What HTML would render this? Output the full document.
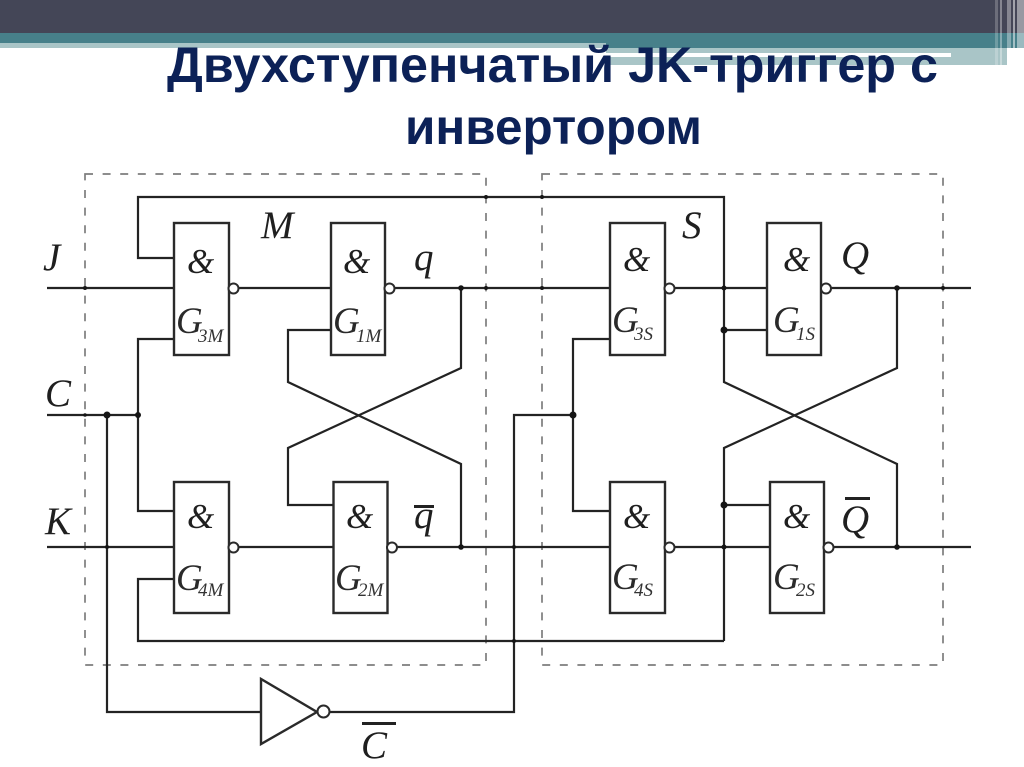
<!DOCTYPE html>
<html lang="ru">
<head>
<meta charset="utf-8">
<title>Двухступенчатый JK-триггер с инвертором</title>
<style>
html,body{margin:0;padding:0;background:#fff;width:1024px;height:767px;overflow:hidden}
svg{display:block}
.w{fill:none;stroke:#232323;stroke-width:2.2;stroke-linejoin:miter}
.g{fill:#fff;stroke:#2a2a2a;stroke-width:2.4}
.b{fill:#fff;stroke:#2a2a2a;stroke-width:2}
.d{fill:none;stroke:#7d7d7d;stroke-width:1.7;stroke-dasharray:8 9.6}
.t{font-family:"Liberation Sans",sans-serif;font-weight:bold;font-size:50px;fill:#0c2157}
.l{font-family:"Liberation Serif",serif;font-style:italic;font-size:39px;fill:#1f1f1f}
.a{font-family:"Liberation Serif",serif;font-style:italic;font-size:35px;fill:#1f1f1f}
.n{font-family:"Liberation Serif",serif;font-style:italic;font-size:37px;fill:#2a2a2a}
.s{font-family:"Liberation Serif",serif;font-style:italic;font-size:19px;fill:#333}
</style>
</head>
<body>
<svg width="1024" height="767" viewBox="0 0 1024 767" xmlns="http://www.w3.org/2000/svg">
<rect width="1024" height="767" fill="#fff"/>
<!-- header bands -->
<rect x="0" y="0" width="1024" height="33" fill="#444657"/>
<rect x="0" y="33" width="1024" height="10" fill="#47808a"/>
<rect x="606" y="43" width="418" height="5" fill="#47808a"/>
<rect x="0" y="43" width="606" height="5" fill="#a9c5c7"/>
<rect x="606" y="48" width="401" height="17" fill="#a9c5c7"/>
<rect x="606" y="53" width="345" height="4" fill="#fff"/>
<g fill="#fff">
<rect x="995" y="0" width="3" height="66" opacity=".22"/>
<rect x="1000" y="0" width="2" height="66" opacity=".35"/>
<rect x="1007" y="0" width="4" height="68" opacity=".35"/>
<rect x="1013" y="0" width="2" height="68" opacity=".5"/>
<rect x="1017" y="0" width="7" height="68" opacity=".45"/>
</g>
<!-- title -->
<text class="t" x="167" y="82" textLength="771" lengthAdjust="spacingAndGlyphs">Двухступенчатый JK-триггер с</text>
<text class="t" x="405" y="144" textLength="297" lengthAdjust="spacingAndGlyphs">инвертором</text>
<!-- dashed boxes -->
<rect class="d" x="85" y="174" width="401" height="491"/>
<rect class="d" x="542" y="174" width="401" height="491"/>
<!-- wires -->
<g class="w">
<path d="M47 288H174M238 288H331M394 288H610M674 288H767M831 288H971"/>
<path d="M47 547H174M238 547H333M397 547H610M674 547H770M833 547H971"/>
<path d="M174 258H138V197H724V382L897 464V547"/>
<path d="M724 641V448L897 368V288"/>
<path d="M174 579H138V641H724"/>
<path d="M174 339H138V511H174"/>
<path d="M47 415H138"/>
<path d="M107 415V712H261"/>
<path d="M330 712H514V415H573"/>
<path d="M610 339H573V511H610"/>
<path d="M331 330H288V382L461 464V547"/>
<path d="M333 505H288V448L461 368V288"/>
<path d="M724 330H767M724 505H770"/>
</g>
<!-- junctions -->
<g fill="#151515">
<circle cx="107" cy="415" r="3.5"/><circle cx="138" cy="415" r="3"/>
<circle cx="461" cy="288" r="2.8"/><circle cx="461" cy="547" r="2.8"/>
<circle cx="573" cy="415" r="3.5"/><circle cx="724" cy="288" r="2.5"/>
<circle cx="724" cy="330" r="3.5"/><circle cx="724" cy="505" r="3.5"/>
<circle cx="724" cy="547" r="2.5"/><circle cx="897" cy="288" r="2.8"/>
<circle cx="897" cy="547" r="2.8"/><circle cx="514" cy="547" r="2"/>
<circle cx="514" cy="641" r="2"/><circle cx="107" cy="547" r="2"/>
<circle cx="486" cy="197" r="2"/><circle cx="486" cy="288" r="2"/>
<circle cx="542" cy="197" r="2"/><circle cx="542" cy="288" r="2"/>
<circle cx="943" cy="288" r="2"/><circle cx="85" cy="288" r="2"/>
<circle cx="85" cy="415" r="1.8"/>
</g>
<!-- gates -->
<rect class="g" x="174" y="223" width="55" height="132"/>
<rect class="g" x="331" y="223" width="54" height="132"/>
<rect class="g" x="174" y="482" width="55" height="131"/>
<rect class="g" x="333.500" y="482" width="54" height="131"/>
<rect class="g" x="610" y="223" width="55" height="132"/>
<rect class="g" x="767" y="223" width="54" height="132"/>
<rect class="g" x="610" y="482" width="55" height="131"/>
<rect class="g" x="770" y="482" width="54" height="131"/>
<!-- bubbles -->
<circle class="b" cx="233.500" cy="288.500" r="5"/>
<circle class="b" cx="389.500" cy="288.500" r="5"/>
<circle class="b" cx="669.500" cy="288.500" r="5"/>
<circle class="b" cx="826" cy="288.500" r="5"/>
<circle class="b" cx="233.500" cy="547.500" r="5"/>
<circle class="b" cx="392" cy="547.500" r="5"/>
<circle class="b" cx="669.500" cy="547.500" r="5"/>
<circle class="b" cx="828.500" cy="547.500" r="5"/>
<!-- inverter -->
<path class="g" d="M261 679V744L317 712Z"/>
<circle class="b" cx="323.500" cy="711.500" r="6"/>
<!-- ampersands -->
<text class="a" x="187" y="273">&amp;</text>
<text class="a" x="343" y="273">&amp;</text>
<text class="a" x="187" y="528">&amp;</text>
<text class="a" x="346" y="528">&amp;</text>
<text class="a" x="623" y="271">&amp;</text>
<text class="a" x="783" y="271">&amp;</text>
<text class="a" x="623" y="528">&amp;</text>
<text class="a" x="783" y="528">&amp;</text>
<!-- gate names -->
<text class="n" x="176" y="333">G</text><text class="s" x="198" y="342">3M</text>
<text class="n" x="333" y="333">G</text><text class="s" x="356" y="342">1M</text>
<text class="n" x="176" y="590">G</text><text class="s" x="198" y="596">4M</text>
<text class="n" x="335" y="590">G</text><text class="s" x="358" y="596">2M</text>
<text class="n" x="612" y="332">G</text><text class="s" x="634" y="340">3S</text>
<text class="n" x="773" y="332">G</text><text class="s" x="796" y="340">1S</text>
<text class="n" x="612" y="589">G</text><text class="s" x="634" y="596">4S</text>
<text class="n" x="773" y="589">G</text><text class="s" x="796" y="596">2S</text>
<!-- signal labels -->
<text class="l" x="43" y="270">J</text>
<text class="l" x="261" y="238">M</text>
<text class="l" x="414" y="270">q</text>
<text class="l" x="45" y="406">C</text>
<text class="l" x="45" y="534">K</text>
<text class="l" x="414" y="528">q</text>
<rect x="414" y="505" width="20" height="3" fill="#222"/>
<text class="l" x="361" y="758">C</text>
<rect x="362" y="722" width="34" height="3" fill="#222"/>
<text class="l" x="682" y="238">S</text>
<text class="l" x="841" y="268">Q</text>
<text class="l" x="841" y="532">Q</text>
<rect x="845" y="497" width="25" height="3" fill="#222"/>
</svg>
</body>
</html>
